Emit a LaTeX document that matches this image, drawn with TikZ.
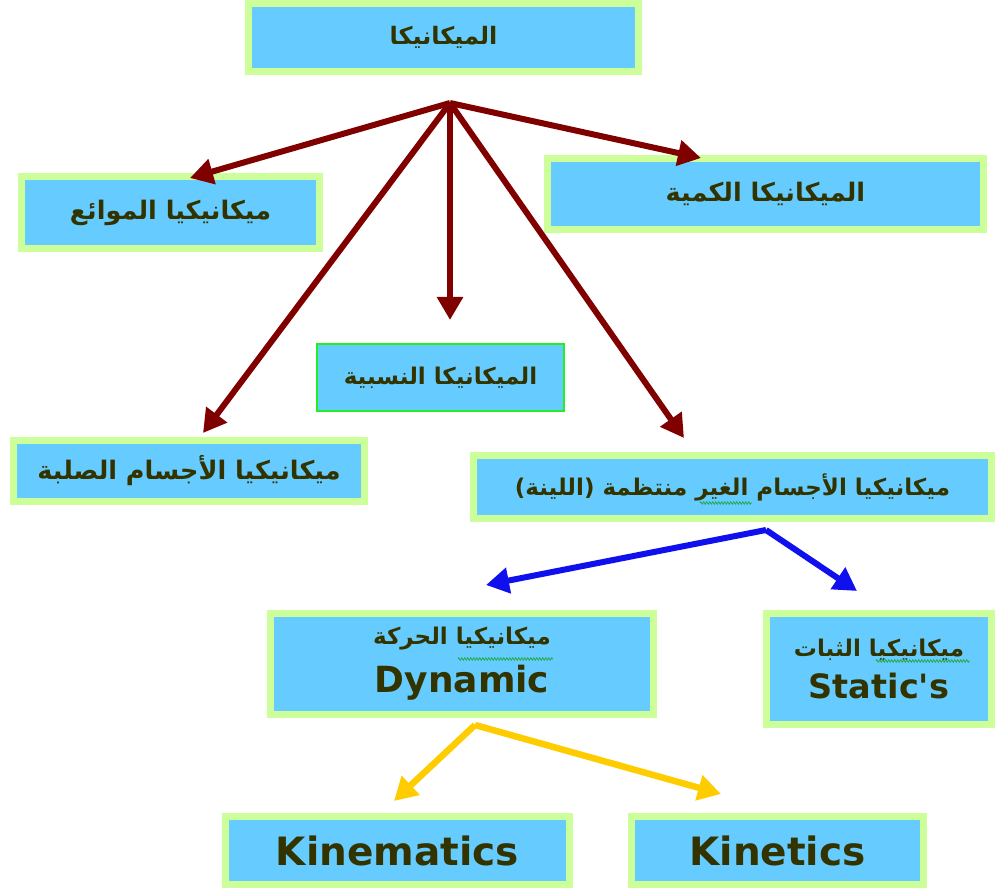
\documentclass[tikz,border=0pt]{standalone}
\usepackage{fontspec}
\setmainfont{DejaVu Sans}[Ligatures=TeXOff]
\newfontfamily\ar[Script=Arabic]{DejaVu Sans}
\TeXXeTstate=1
\usetikzlibrary{arrows.meta,decorations.pathmorphing}
\definecolor{boxfill}{HTML}{66CCFF}
\definecolor{boxedge}{HTML}{CCFF99}
\definecolor{txt}{HTML}{333300}
\definecolor{darkred}{HTML}{800000}
\definecolor{arrblue}{HTML}{1010EE}
\definecolor{arryellow}{HTML}{FFCC00}
\definecolor{thingreen}{HTML}{22EE22}
\definecolor{squig}{HTML}{22AA44}
\tikzset{
  box/.style={draw=boxedge, fill=boxfill, line width=7pt, inner sep=0pt, text=txt, font=\bfseries, align=center},
  thinbox/.style={draw=thingreen, fill=boxfill, line width=1.6pt, inner sep=0pt, text=txt, font=\bfseries, align=center},
  redarr/.style={draw=darkred, line width=6pt, -{Triangle[length=23pt,width=25pt]}},
  bluearr/.style={draw=arrblue, line width=6pt, -{Triangle[length=23pt,width=25pt]}},
  yelarr/.style={draw=arryellow, line width=6.5pt, -{Triangle[length=23pt,width=25pt]}},
  wavy/.style={draw=squig, line width=0.8pt, decorate, decoration={zigzag, amplitude=1.2pt, segment length=3pt}},
}
\newcommand{\AR}[2][23]{{\ar\bfseries\fontsize{#1}{#1}\selectfont\beginR #2\endR}}
\newcommand{\LAT}[2]{{\fontsize{#1}{#1}\selectfont #2}}
\begin{document}
\begin{tikzpicture}[x=1pt,y=-1pt]
\useasboundingbox (0,0) rectangle (997,890);
% boxes
\node[box, minimum width=390pt, minimum height=68pt] (mech) at (443.5,37.5) {\AR[24]{الميكانيكا}};
\node[box, minimum width=298pt, minimum height=72pt] (fluid) at (170.5,212.5) {\AR[25.5]{ميكانيكيا الموائع}};
\node[box, minimum width=436pt, minimum height=71pt] (quant) at (765.5,194) {\AR[25.5]{الميكانيكا الكمية}};
\node[thinbox, minimum width=247pt, minimum height=67pt] (rel) at (440.5,377.5) {\AR[23]{الميكانيكا النسبية}};
\node[box, minimum width=351pt, minimum height=61pt] (rigid) at (189,471) {\AR[25.5]{ميكانيكيا الأجسام الصلبة}};
\node[box, minimum width=518pt, minimum height=63pt] (soft) at (732.5,487) {\AR[23]{ميكانيكيا الأجسام الغير منتظمة (اللينة)}};
\node[box, minimum width=383pt, minimum height=101pt] (dyn) at (462,664) {\AR[23]{ميكانيكيا الحركة}\\[14pt]\LAT{36}{Dynamic}};
\node[box, minimum width=225pt, minimum height=111pt] (stat) at (879,669) {\AR[23]{ميكانيكيا الثبات}\\[12pt]\LAT{33.5}{Static's}};
\node[box, minimum width=344pt, minimum height=68pt] (kinem) at (397.5,850.5) {\LAT{39}{Kinematics}};
\node[box, minimum width=292pt, minimum height=68pt] (kinet) at (777.5,850.5) {\LAT{39}{Kinetics}};
% spell-check squiggles
\coordinate (sq1a) at (700,503); \coordinate (sq1b) at (752,503);
\draw[wavy] (sq1a) -- (sq1b);
\coordinate (sq2a) at (458,659); \coordinate (sq2b) at (553,659);
\draw[wavy] (sq2a) -- (sq2b);
\coordinate (sq3a) at (876,661); \coordinate (sq3b) at (970,661);
\draw[wavy] (sq3a) -- (sq3b);
% red connectors
\coordinate (hub) at (450,103);
\coordinate (tfluid) at (190,178);
\coordinate (tquant) at (701,158);
\coordinate (trel) at (450,320);
\coordinate (trigid) at (203,433);
\coordinate (tsoft) at (684,438);
\draw[redarr] (hub) -- (tfluid);
\draw[redarr] (hub) -- (tquant);
\draw[redarr] (hub) -- (trel);
\draw[redarr] (hub) -- (trigid);
\draw[redarr] (hub) -- (tsoft);
% blue connectors
\coordinate (bhub) at (766,530);
\coordinate (tdyn) at (486,585);
\coordinate (tstat) at (857,591);
\draw[bluearr] (bhub) -- (tdyn);
\draw[bluearr] (bhub) -- (tstat);
% yellow connectors
\coordinate (yhub) at (475,725);
\coordinate (tkinem) at (394,801);
\coordinate (tkinet) at (721,794);
\draw[yelarr] (yhub) -- (tkinem);
\draw[yelarr] (yhub) -- (tkinet);
\end{tikzpicture}
\end{document}
